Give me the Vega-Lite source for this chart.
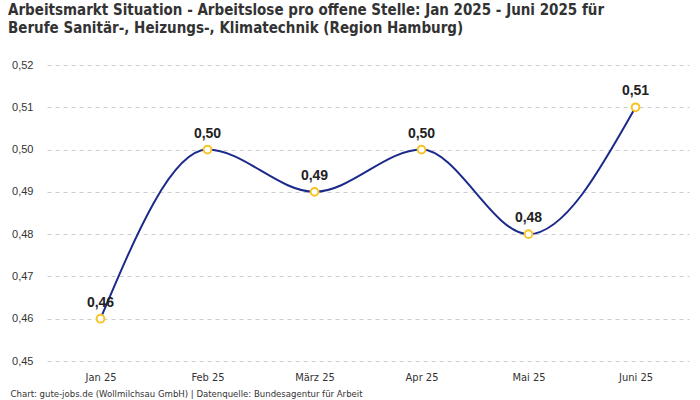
{
  "$schema": "https://vega.github.io/schema/vega-lite/v6.json",
  "width": 642,
  "height": 296,
  "autosize": {"type": "none"},
  "padding": {"left": 47, "top": 65, "right": 11, "bottom": 39},
  "background": "white",
  "config": {
    "locale": {"number": {"decimal": ",", "thousands": ".", "grouping": [3], "currency": ["", " €"]}},
    "view": {"stroke": null},
    "font": "Liberation Sans"
  },
  "title": {
    "text": ["Arbeitsmarkt Situation - Arbeitslose pro offene Stelle: Jan 2025 - Juni 2025 für", "Berufe Sanitär-, Heizungs-, Klimatechnik (Region Hamburg)"],
    "anchor": "start",
    "frame": "bounds",
    "font": "DejaVu Sans Condensed",
    "fontSize": 15,
    "fontWeight": "bold",
    "color": "#333333",
    "lineHeight": 18,
    "offset": 23,
    "dx": -2
  },
  "data": {
    "values": [
      {"monat": "Jan 25", "wert": 0.46},
      {"monat": "Feb 25", "wert": 0.50},
      {"monat": "März 25", "wert": 0.49},
      {"monat": "Apr 25", "wert": 0.50},
      {"monat": "Mai 25", "wert": 0.48},
      {"monat": "Juni 25", "wert": 0.51}
    ]
  },
  "encoding": {
    "x": {
      "field": "monat",
      "type": "ordinal",
      "sort": null,
      "scale": {"paddingInner": 0, "paddingOuter": 0.5},
      "axis": {
        "labelAngle": 0,
        "domain": false,
        "ticks": false,
        "labelFont": "DejaVu Sans Condensed",
        "labelFontSize": 11,
        "labelColor": "#333333",
        "labelPadding": 10,
        "title": "Chart: gute-jobs.de (Wollmilchsau GmbH) | Datenquelle: Bundesagentur für Arbeit",
        "titleFont": "DejaVu Sans Condensed",
        "titleFontSize": 9.5,
        "titleFontWeight": "normal",
        "titleColor": "#333333",
        "titleAnchor": "start",
        "titleAlign": "left",
        "titleBaseline": "middle",
        "titleX": -37,
        "titleY": 32
      }
    },
    "y": {
      "field": "wert",
      "type": "quantitative",
      "scale": {"domain": [0.45, 0.52], "zero": false, "nice": false},
      "axis": {
        "title": null,
        "format": ".2f",
        "values": [0.45, 0.46, 0.47, 0.48, 0.49, 0.50, 0.51, 0.52],
        "domain": false,
        "ticks": false,
        "labelFontSize": 11,
        "labelColor": "#333333",
        "labelPadding": 14,
        "gridColor": "#cccccc",
        "gridDash": [4, 4],
        "gridWidth": 1
      }
    }
  },
  "layer": [
    {
      "mark": {"type": "line", "interpolate": "monotone", "color": "#1b2a8a", "strokeWidth": 2}
    },
    {
      "mark": {"type": "point", "filled": true, "fill": "white", "stroke": "#f7c325", "strokeWidth": 2, "size": 60, "opacity": 1}
    },
    {
      "mark": {"type": "text", "dy": -16, "fontSize": 14, "fontWeight": "bold", "color": "#222222"},
      "encoding": {"text": {"field": "wert", "type": "quantitative", "format": ".2f"}}
    }
  ]
}
